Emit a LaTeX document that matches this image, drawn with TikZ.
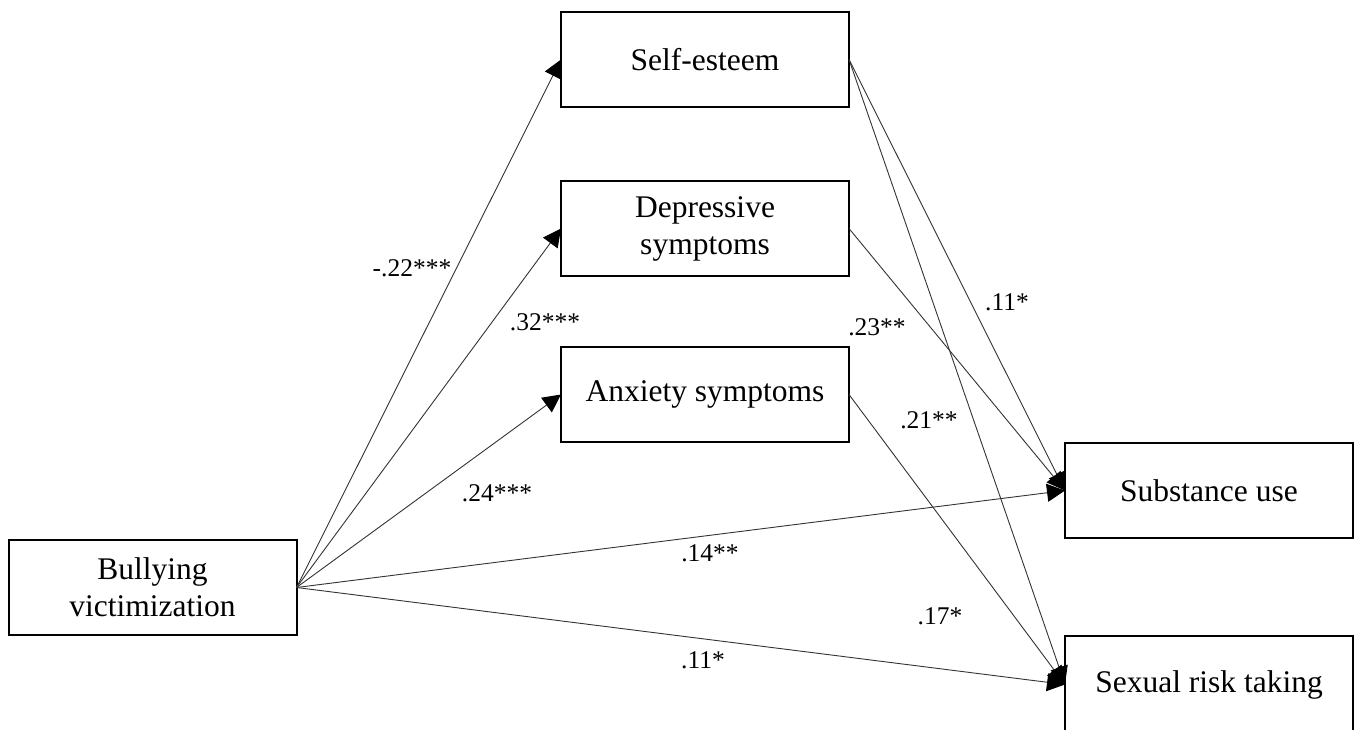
\documentclass[tikz,border=0pt]{standalone}
\usepackage{fontspec}
\setmainfont{Liberation Serif}
\usetikzlibrary{arrows.meta,positioning}
\begin{document}
\begin{tikzpicture}[
  x=1pt,y=-1pt,
  box/.style={draw,line width=2pt,fill=white,minimum width=288pt,minimum height=95pt,inner sep=0pt,outer sep=0pt,align=center,font=\fontsize{31.5}{37}\selectfont},
  coef/.style={inner sep=0pt,font=\fontsize{25.5}{30}\selectfont},
  arr/.style={-{Triangle[length=18pt,width=18pt,color=black]},line width=0.9pt,draw=black!80}
]
\useasboundingbox (0,0) rectangle (1359,730);
\node[box] (se) at (705,59.5) {Self-esteem};
\node[box,below=74pt of se] (dep) {Depressive\\symptoms};
\node[box,below=71pt of dep] (anx) {Anxiety symptoms};
\node[box] (bv) at (152.5,587.5) {Bullying\\victimization};
\node[box] (su) at (1209,490.5) {Substance use};
\node[box,minimum height=97pt,below=98pt of su] (sr) {Sexual risk taking};
\draw[arr] (bv.east) -- (se.west);
\draw[arr] (bv.east) -- (dep.west);
\draw[arr] (bv.east) -- (anx.west);
\draw[arr] (bv.east) -- (su.west);
\draw[arr] (bv.east) -- (sr.west);
\draw[arr] (se.east) -- (su.west);
\draw[arr] (se.east) -- (sr.west);
\draw[arr] (dep.east) -- (su.west);
\draw[arr] (anx.east) -- (sr.west);
\node[coef] (c1) at (412,268) {-.22***};
\node[coef] (c2) at (545,322) {.32***};
\node[coef] (c3) at (497,493) {.24***};
\node[coef] (c4) at (710,553) {.14**};
\node[coef] (c5) at (703,660) {.11*};
\node[coef] (c6) at (877,327) {.23**};
\node[coef] (c7) at (1007,302) {.11*};
\node[coef] (c8) at (929,420) {.21**};
\node[coef] (c9) at (940,616) {.17*};
\end{tikzpicture}
\end{document}
